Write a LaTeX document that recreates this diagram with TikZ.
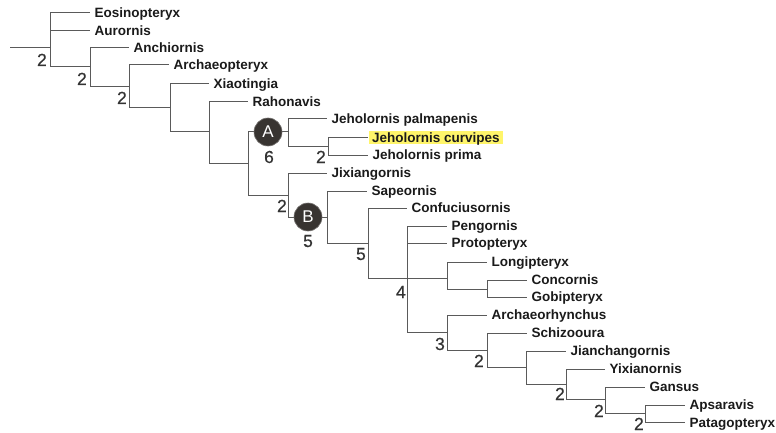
\documentclass[tikz,border=0pt]{standalone}
\usepackage{fontspec}
\setmainfont{Liberation Sans}
\newfontfamily\numfont[FakeBold=0.5]{Liberation Sans}
\definecolor{brc}{HTML}{5A5A5A}
\definecolor{txc}{HTML}{1A1A1A}
\definecolor{numc}{HTML}{333333}
\definecolor{circc}{HTML}{383431}
\definecolor{hl}{HTML}{FFF56A}
\begin{document}
\begin{tikzpicture}[x=1pt,y=-1pt,
  br/.style={draw=brc,line width=1pt},
  leaf/.style={anchor=west,inner xsep=4.5pt,inner ysep=0pt,text height=9.7pt,text depth=0pt,
    font=\fontsize{13.5}{16}\selectfont\bfseries,text=txc},
  hileaf/.style={leaf,fill=hl,inner xsep=3pt,inner ysep=1.2pt},
  num/.style={anchor=base east,inner sep=0pt,font=\numfont\fontsize{17.5}{20}\selectfont,text=numc},
  numc/.style={num,anchor=base},
  circ/.style={circle,fill=circc,draw=circc!70!white,line width=0.6pt,minimum size=28pt,inner sep=0pt,
    text=white,font=\fontsize{17}{19}\selectfont}]
\useasboundingbox (0,0) rectangle (776,433);
% internal nodes
\coordinate (root) at (10,48);
\coordinate (n1) at (50,48);
\coordinate (n2) at (90,67);
\coordinate (n3) at (129,87);
\coordinate (n4) at (170,108);
\coordinate (n5) at (209,132);
\coordinate (n6) at (248,163);
\coordinate (nA) at (288,132);
\coordinate (nJ) at (328,146);
\coordinate (nX) at (288,195);
\coordinate (nB) at (327,217);
\coordinate (n8) at (368,243);
\coordinate (n9) at (407,278);
\coordinate (nL) at (447,278);
\coordinate (nC) at (487,289);
\coordinate (nR) at (447,332);
\coordinate (nS) at (487,350);
\coordinate (nT) at (526,367);
\coordinate (nY) at (566,384);
\coordinate (nG) at (605,399);
\coordinate (nP) at (645,413);
% leaf tips
\coordinate (tEos) at (90,13);
\coordinate (tAur) at (90,31);
\coordinate (tAnc) at (129,48);
\coordinate (tArc) at (169,65);
\coordinate (tXia) at (209,84);
\coordinate (tRah) at (248,102);
\coordinate (tPal) at (327,119);
\coordinate (tCur) at (368,137.5);
\coordinate (tPri) at (368,155);
\coordinate (tJix) at (327,173);
\coordinate (tSap) at (367,191);
\coordinate (tCon) at (407,208);
\coordinate (tPen) at (447,226);
\coordinate (tPro) at (447,243);
\coordinate (tLon) at (487,262);
\coordinate (tCnc) at (527,280);
\coordinate (tGob) at (527,297);
\coordinate (tArh) at (487,315);
\coordinate (tSch) at (527,333);
\coordinate (tJia) at (566,351);
\coordinate (tYix) at (605,369);
\coordinate (tGan) at (645,387);
\coordinate (tAps) at (685,405);
\coordinate (tPat) at (685,422.5);
% branches
\draw[br] (root) -- (n1);
\foreach \a/\b in {n1/tEos,n1/tAur,n1/n2,n2/tAnc,n2/n3,n3/tArc,n3/n4,n4/tXia,n4/n5,
  n5/tRah,n5/n6,n6/nA,n6/nX,nA/tPal,nA/nJ,nJ/tCur,nJ/tPri,nX/tJix,nX/nB,nB/tSap,nB/n8,
  n8/tCon,n8/n9,n9/tPen,n9/tPro,n9/nL,n9/nR,nL/tLon,nL/nC,nC/tCnc,nC/tGob,nR/tArh,nR/nS,
  nS/tSch,nS/nT,nT/tJia,nT/nY,nY/tYix,nY/nG,nG/tGan,nG/nP,nP/tAps,nP/tPat}
  \draw[br] (\a) |- (\b);
% leaf labels
\node[leaf] (Eos) at (tEos) {Eosinopteryx};
\node[leaf] (Aur) at (tAur) {Aurornis};
\node[leaf] (Anc) at (tAnc) {Anchiornis};
\node[leaf] (Arc) at (tArc) {Archaeopteryx};
\node[leaf] (Xia) at (tXia) {Xiaotingia};
\node[leaf] (Rah) at (tRah) {Rahonavis};
\node[leaf] (Pal) at (tPal) {Jeholornis palmapenis};
\node[hileaf] (Cur) at ([xshift=1pt]tCur) {Jeholornis curvipes};
\node[leaf] (Pri) at (tPri) {Jeholornis prima};
\node[leaf] (Jix) at (tJix) {Jixiangornis};
\node[leaf] (Sap) at (tSap) {Sapeornis};
\node[leaf] (Con) at (tCon) {Confuciusornis};
\node[leaf] (Pen) at (tPen) {Pengornis};
\node[leaf] (Pro) at (tPro) {Protopteryx};
\node[leaf] (Lon) at (tLon) {Longipteryx};
\node[leaf] (Cnc) at (tCnc) {Concornis};
\node[leaf] (Gob) at (tGob) {Gobipteryx};
\node[leaf] (Arh) at (tArh) {Archaeorhynchus};
\node[leaf] (Sch) at (tSch) {Schizooura};
\node[leaf] (Jia) at (tJia) {Jianchangornis};
\node[leaf] (Yix) at (tYix) {Yixianornis};
\node[leaf] (Gan) at (tGan) {Gansus};
\node[leaf] (Aps) at (tAps) {Apsaravis};
\node[leaf] (Pat) at (tPat) {Patagopteryx};
% circles
\node[circ] (cA) at (268,132) {A};
\node[circ] (cB) at (308,217) {B};
% support numbers
\node[num] (k1) at (47,66) {2};
\node[num] (k2) at (87,85) {2};
\node[num] (k3) at (127,104) {2};
\node[numc] (k4) at (269,163) {6};
\node[num] (k5) at (326,163) {2};
\node[num] (k6) at (287,212) {2};
\node[numc] (k7) at (308,247) {5};
\node[num] (k8) at (366,260) {5};
\node[num] (k9) at (406,298) {4};
\node[num] (k10) at (445,350) {3};
\node[num] (k11) at (484,367) {2};
\node[num] (k12) at (565,400) {2};
\node[num] (k13) at (604,417) {2};
\node[num] (k14) at (644,430) {2};
\end{tikzpicture}
\end{document}
